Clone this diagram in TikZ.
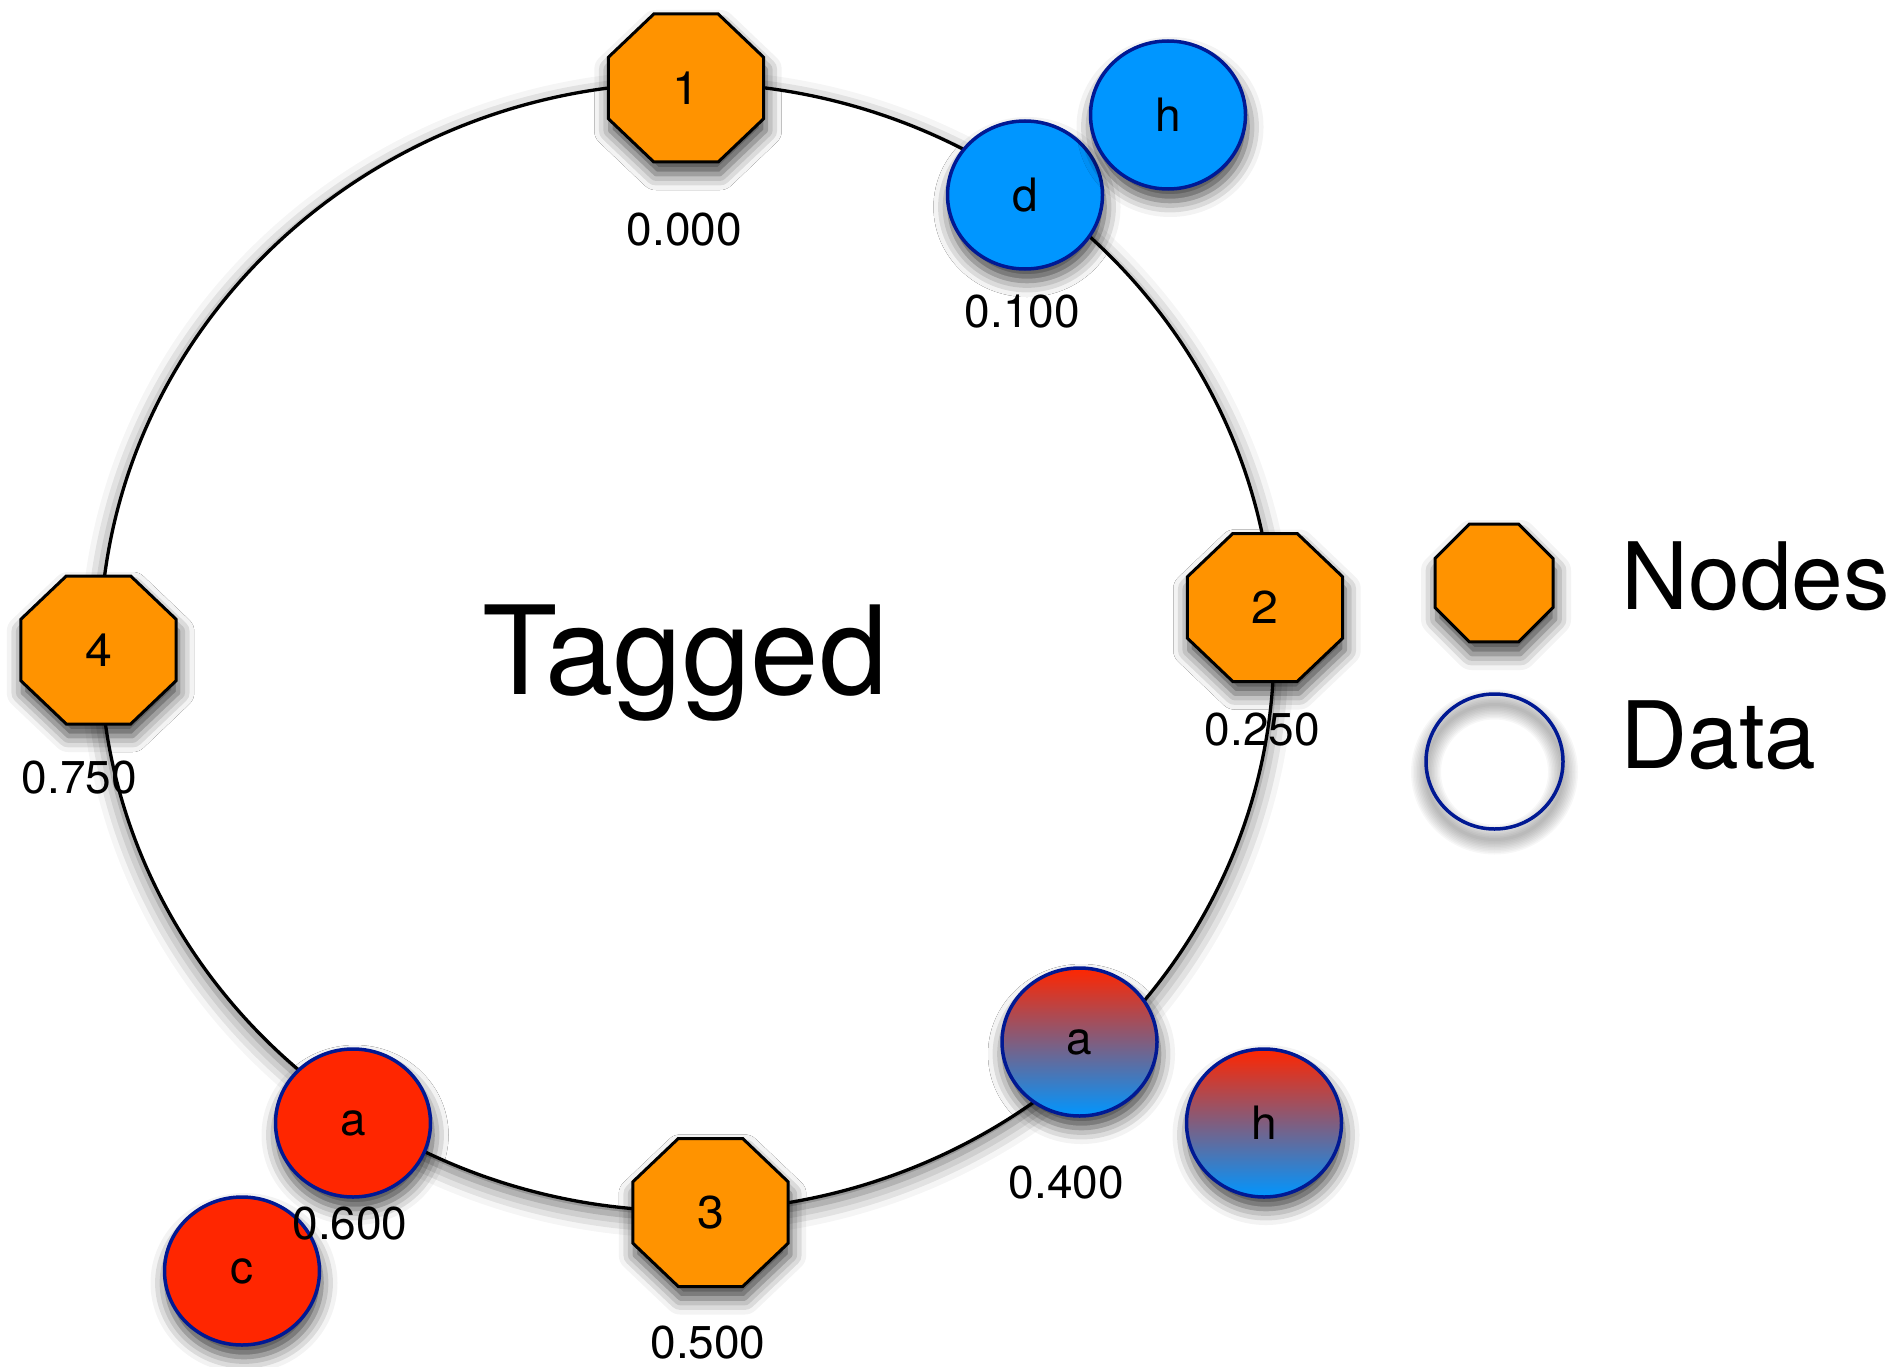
\documentclass[tikz,border=0pt]{standalone}
\usepackage{fontspec}
\setmainfont{TeX Gyre Heros}
\usetikzlibrary{shapes.geometric,shadows.blur}
\definecolor{tangerine}{HTML}{FF9300}
\definecolor{aqua}{HTML}{0096FF}
\definecolor{maraschino}{HTML}{FF2600}
\definecolor{midnight}{HTML}{011993}
\newcommand\smallfont{\fontsize{46}{52}\selectfont}
\newcommand\legfont{\fontsize{93}{100}\selectfont}
\tikzset{
  shad/.style={blur shadow={shadow xshift=2pt, shadow yshift=-12pt, shadow blur radius=16pt, shadow opacity=75}},
  octbox/.style={regular polygon, regular polygon sides=8, minimum size=160.2pt, inner sep=0pt,
    draw=black, line width=3pt, fill=tangerine, shad, font=\smallfont},
  databox/.style={ellipse, minimum width=155pt, minimum height=148pt, inner sep=0pt,
    draw=midnight, line width=3.5pt, shad, font=\smallfont},
  bluedata/.style={databox, fill=aqua},
  reddata/.style={databox, fill=maraschino},
  mixdata/.style={databox, top color=maraschino, bottom color=aqua},
  val/.style={anchor=base, inner sep=0pt, font=\smallfont},
  legtext/.style={anchor=base west, inner sep=0pt, font=\legfont},
}
\newcommand\octat[4]{\begin{scope}[shift={(#2,#3)},xscale=1.05]\node[octbox,transform shape] (#1) at (0,0) {#4};\end{scope}}
\begin{document}
\begin{tikzpicture}[x=1pt,y=-1pt]
\useasboundingbox (0,0) rectangle (1903,1367);
% ring
\node[ellipse, draw=black, line width=3.3pt, fill=white, inner sep=0pt,
  minimum width=1174pt, minimum height=1128pt,
  blur shadow={shadow xshift=0pt, shadow yshift=-7pt, shadow blur radius=20pt, shadow opacity=60}] (ring) at (687,647) {};
\node[anchor=base, inner sep=0pt, font=\fontsize{123}{140}\selectfont] (title) at (685,694) {Tagged};
% nodes on ring
\octat{n1}{686}{88}{1}
\octat{n2}{1265}{607.5}{2}
\octat{n3}{710.5}{1212.5}{3}
\octat{n4}{98.5}{650}{4}
% data
\node[bluedata] (dd) at (1025,195) {d};
\node[bluedata] (dh) at (1168,115) {h};
\node[mixdata] (ma) at (1079.5,1042) {a};
\node[mixdata] (mh) at (1264,1123) {h};
\node[reddata] (ra) at (353,1123) {a};
\node[reddata] (rc) at (242,1271) {c};
% values
\node[val] (v000) at (684.5,245) {0.000};
\node[val] (v100) at (1022.5,327) {0.100};
\node[val] (v250) at (1262.5,745) {0.250};
\node[val] (v400) at (1066.5,1198) {0.400};
\node[val] (v500) at (708,1358) {0.500};
\node[val] (v600) at (350,1239) {0.600};
\node[val] (v750) at (79.5,793) {0.750};
% legend
\node[regular polygon, regular polygon sides=8, minimum size=127.7pt, inner sep=0pt,
  draw=black, line width=3pt, fill=tangerine, shad] (legnode) at (1494,583) {};
\foreach \i in {1,...,10}
  \draw[black, opacity=0.03, line width=\i*3pt] (1494.5,772) ellipse [x radius=68.5pt, y radius=67.5pt];
\node[ellipse, draw=midnight, line width=3.5pt, inner sep=0pt, minimum width=137pt, minimum height=135pt] (legdata) at (1494.5,761.5) {};
\node[legtext] (legn) at (1621,609) {Nodes};
\node[legtext] (legd) at (1620,768) {Data};
\end{tikzpicture}
\end{document}
